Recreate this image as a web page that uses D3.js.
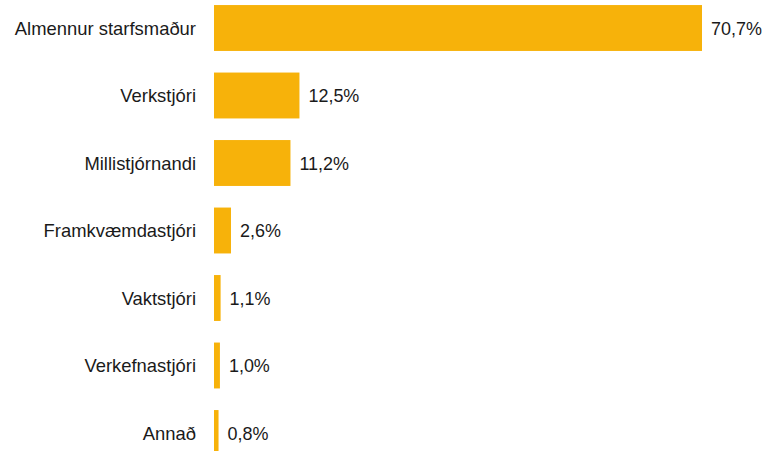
<!DOCTYPE html>
<head>
    <meta charset="utf-8">
    <script src="https://d3js.org/d3.v7.min.js" charset="utf-8"></script>
    <style type="text/css">
        body {
            margin: 0;
            background-color: white;
        }

        text {
            font-family: "Liberation Sans", Arial, sans-serif;
            font-size: 19px;
            fill: #1a1a1a;
        }
    </style>
</head>

<body>
    <svg id="main"></svg>
    <script>
        let width = 767,
            height = 451

        // categories and values (percent)
        const categories = ["Almennur starfsmaður", "Verkstjóri", "Millistjórnandi", "Framkvæmdastjóri",
            "Vaktstjóri", "Verkefnastjóri", "Annað"]
        const values = [70.7, 12.5, 11.2, 2.6, 1.1, 1.0, 0.8]
        const valueLabels = ["70,7%", "12,5%", "11,2%", "2,6%", "1,1%", "1,0%", "0,8%"]

        let svg1 = d3.select("#main")
            .attr("width", width)
            .attr("height", height)

        let x = d3.scaleLinear()
            .domain([0, 70.7])
            .range([213, 702])

        let y = d3.scaleBand()
            .domain(categories)
            .range([-5.75, 466.75])
            .paddingInner(0.32)
            .paddingOuter(0.16)

        // the original font is a bit condensed, so squeeze the text horizontally
        const squeezeCat = 0.97,
            squeezeVal = 0.945

        let rows = svg1.selectAll("g.row")
            .data(categories)
            .enter()
            .append("g")
            .attr("class", "row")

        rows.append("rect")
            .attr("x", 214)
            .attr("y", d => y(d))
            .attr("width", (d, i) => Math.max(2, x(values[i]) - 214))
            .attr("height", y.bandwidth())
            .attr("fill", "#f7b20a")

        // category labels
        rows.append("text")
            .attr("transform", d => "translate(196," + (y(d) + y.bandwidth() / 2) + ") scale(" + squeezeCat + ",1)")
            .attr("dy", "0.35em")
            .attr("text-anchor", "end")
            .text(d => d)

        // value labels
        rows.append("text")
            .attr("transform", (d, i) => "translate(" + (Math.max(216, x(values[i])) + 9) + "," + (y(d) + y.bandwidth() / 2) + ") scale(" + squeezeVal + ",1)")
            .attr("dy", "0.35em")
            .text((d, i) => valueLabels[i])
    </script>
</body>
